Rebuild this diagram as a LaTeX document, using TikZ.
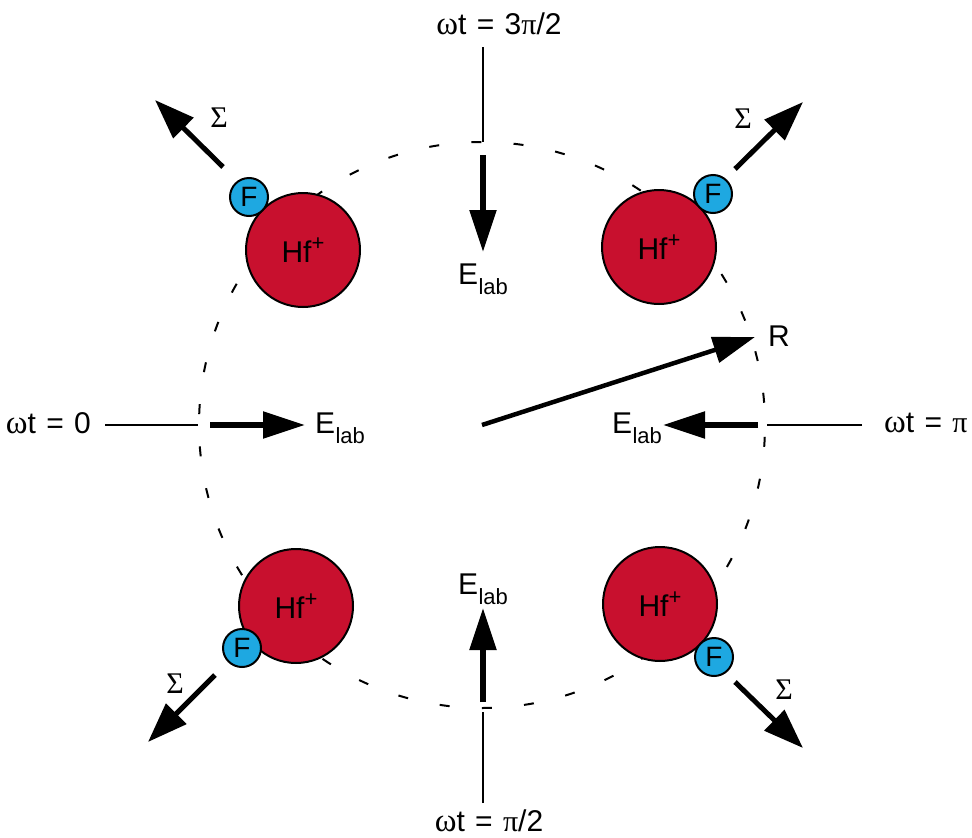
\documentclass[tikz,border=0pt]{standalone}
\usepackage{fontspec}
\setmainfont{Liberation Sans}
\newfontfamily\symfont{Liberation Serif}
\usetikzlibrary{arrows.meta}
\definecolor{hfred}{RGB}{200,16,46}
\definecolor{fblue}{RGB}{30,168,225}
\newcommand{\Elab}{E\kern0.5pt\raisebox{-0.34em}{\fontsize{22}{22}\selectfont lab}}
\newcommand{\wt}{{\symfont\fontsize{33}{33}\selectfont ω}t}
\newcommand{\sig}{{\symfont\fontsize{30}{30}\selectfont Σ}}
\newcommand{\eqsign}{\ \kern2pt=\kern2pt\ }
\begin{document}
\begin{tikzpicture}[x=1pt,y=-1pt,font=\fontsize{30}{34}\selectfont,
  thinline/.style={line width=2pt},
  boldarrow/.style={line width=5.5pt,-{Triangle[length=42pt,width=26pt]}},
  sigarrow/.style={line width=5pt,-{Triangle[length=40pt,width=28pt]}},
  hfatom/.style={circle,draw,line width=2pt,fill=hfred,minimum size=114pt,inner sep=0pt},
  fatom/.style={circle,draw,line width=2pt,fill=fblue,minimum size=38pt,inner sep=0pt},
  orbit/.style={circle,draw,line width=2pt,dash pattern=on 10pt off 32.3pt,dash phase=20pt,minimum size=566pt,inner sep=0pt},
  lbl/.style={inner sep=0pt}]
\useasboundingbox (0,0) rectangle (972,838);

% orbit
\node[orbit] (orb) at (482,425) {};

% molecules
\node[hfatom] (hf1) at (303,250) {Hf\raisebox{0.38em}{\fontsize{22}{22}\selectfont +}};
\node[hfatom] (hf2) at (659,247) {Hf\raisebox{0.38em}{\fontsize{22}{22}\selectfont +}};
\node[hfatom] (hf3) at (296,606) {Hf\raisebox{0.38em}{\fontsize{22}{22}\selectfont +}};
\node[hfatom] (hf4) at (660,604) {Hf\raisebox{0.38em}{\fontsize{22}{22}\selectfont +}};
\node[fatom,font=\fontsize{28}{28}\selectfont] (f1) at (249,197) {F};
\node[fatom,font=\fontsize{28}{28}\selectfont] (f2) at (713,194) {F};
\node[fatom,font=\fontsize{28}{28}\selectfont] (f3) at (242,648) {F};
\node[fatom,font=\fontsize{28}{28}\selectfont] (f4) at (714,657) {F};

% Sigma arrows
\coordinate (s1a) at (223,167); \coordinate (s1b) at (155,100);
\coordinate (s2a) at (735,169); \coordinate (s2b) at (803,102);
\coordinate (s3a) at (215,675); \coordinate (s3b) at (148,742);
\coordinate (s4a) at (735,682); \coordinate (s4b) at (803,748);
\draw[sigarrow] (s1a) -- (s1b);
\draw[sigarrow] (s2a) -- (s2b);
\draw[sigarrow] (s3a) -- (s3b);
\draw[sigarrow] (s4a) -- (s4b);
\node[lbl] (sg1) at (219,118) {\sig};
\node[lbl] (sg2) at (743,119) {\sig};
\node[lbl] (sg3) at (175,684) {\sig};
\node[lbl] (sg4) at (784,690) {\sig};

% phase labels and thin lines
\node[lbl] (wtop) at (499,24) {\wt\eqsign 3{\symfont π}/2};
\node[lbl] (wbot) at (489,821) {\wt\eqsign{\symfont π}/2};
\node[lbl,anchor=east] (wleft) at (91,423) {\wt\eqsign 0};
\node[lbl,anchor=west] (wright) at (884,423) {\wt\eqsign{\symfont π}};
\coordinate (lt1) at (483,47);  \coordinate (lt2) at (483,142);
\coordinate (lb1) at (483,803); \coordinate (lb2) at (483,712);
\coordinate (ll1) at (105,425); \coordinate (ll2) at (198,425);
\coordinate (lr1) at (862,425); \coordinate (lr2) at (767,425);
\draw[thinline] (lt1) -- (lt2);
\draw[thinline] (lb1) -- (lb2);
\draw[thinline] (ll1) -- (ll2);
\draw[thinline] (lr1) -- (lr2);

% E_lab arrows
\coordinate (et1) at (483,155); \coordinate (et2) at (483,252);
\coordinate (eb1) at (483,702); \coordinate (eb2) at (483,608);
\coordinate (el1) at (210,425); \coordinate (el2) at (305,425);
\coordinate (er1) at (758,425); \coordinate (er2) at (663,425);
\draw[boldarrow] (et1) -- (et2);
\draw[boldarrow] (eb1) -- (eb2);
\draw[boldarrow] (el1) -- (el2);
\draw[boldarrow] (er1) -- (er2);
\node[lbl] (etop) at (483,279) {\Elab};
\node[lbl] (ebot) at (483,589) {\Elab};
\node[lbl] (eleft) at (340,428) {\Elab};
\node[lbl] (eright) at (637,428) {\Elab};

% R vector
\coordinate (ctr) at (482,425);
\coordinate (rtip) at (755,337);
\draw[boldarrow,line width=4.5pt] (ctr) -- (rtip);
\node[lbl] (rl) at (779,336) {R};
\end{tikzpicture}
\end{document}
